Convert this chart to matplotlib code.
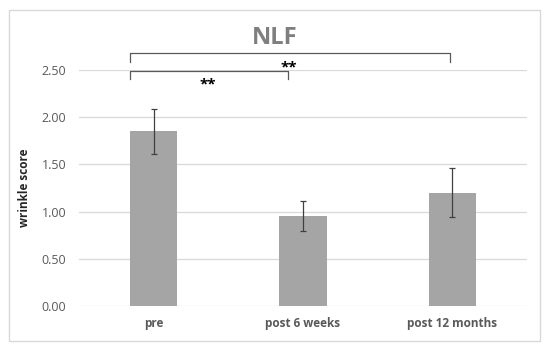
import numpy as np
import matplotlib
matplotlib.use("Agg")
from matplotlib import pyplot as plt
from matplotlib.patches import Rectangle

categories = ["pre", "post 6 weeks", "post 12 months"]
means = [1.85, 0.95, 1.20]
errors = [0.24, 0.16, 0.26]
yticks = [0.0, 0.5, 1.0, 1.5, 2.0, 2.5]

plt.rcParams['font.family'] = ['Open Sans', 'DejaVu Sans']

fig = plt.figure(figsize=(5.5, 3.45), dpi=100)
fig.patches.append(Rectangle((9 / 550, 1 - 341 / 345), 531 / 550, 331 / 345,
                             transform=fig.transFigure, fill=False,
                             edgecolor="#d9d9d9", linewidth=1.0))

ax = fig.add_axes([79 / 550, 1 - 306 / 345, 448 / 550, 236 / 345])
x = np.arange(len(categories))
ax.bar(x, means, width=0.315, color="#a5a5a5", zorder=2)
ax.errorbar(x, means, yerr=errors, fmt="none", ecolor="#404040",
            elinewidth=0.9, capsize=2.5, capthick=0.9, zorder=3)

ax.set_xlim(-0.5, 2.5)
ax.set_ylim(0, 2.5)
ax.set_yticks(yticks)
ax.set_yticklabels([f"{v:.2f}" for v in yticks], color="#595959", fontsize=9)
ax.set_xticks(x)
ax.set_xticklabels(categories, color="#595959", fontsize=8.5, fontweight="bold")
ax.tick_params(length=0, pad=9)
ax.tick_params(axis="x", pad=8)
ax.grid(axis="y", color="#d9d9d9", linewidth=0.9, zorder=0)
for s in ax.spines.values():
    s.set_visible(False)
ax.set_ylabel("wrinkle score", fontsize=8.5, fontweight="bold", color="#262626", labelpad=8)

# significance brackets
ax.plot([-0.158, -0.158, 1.985, 1.985], [2.585, 2.68, 2.68, 2.585],
        color="#595959", linewidth=0.9, clip_on=False)
ax.plot([-0.158, -0.158, 0.9, 0.9], [2.40, 2.485, 2.485, 2.40],
        color="#595959", linewidth=0.9, clip_on=False)
ax.text(0.907, 2.53, "**", ha="center", va="center", fontsize=11, fontweight="bold")
ax.text(0.364, 2.35, "**", ha="center", va="center", fontsize=11, fontweight="bold")

fig.text(275 / 550, 1 - 38 / 345, "NLF", ha="center", va="center",
         fontsize=17, fontweight="bold", color="#7f7f7f")

fig.savefig("out.png", dpi=100)
